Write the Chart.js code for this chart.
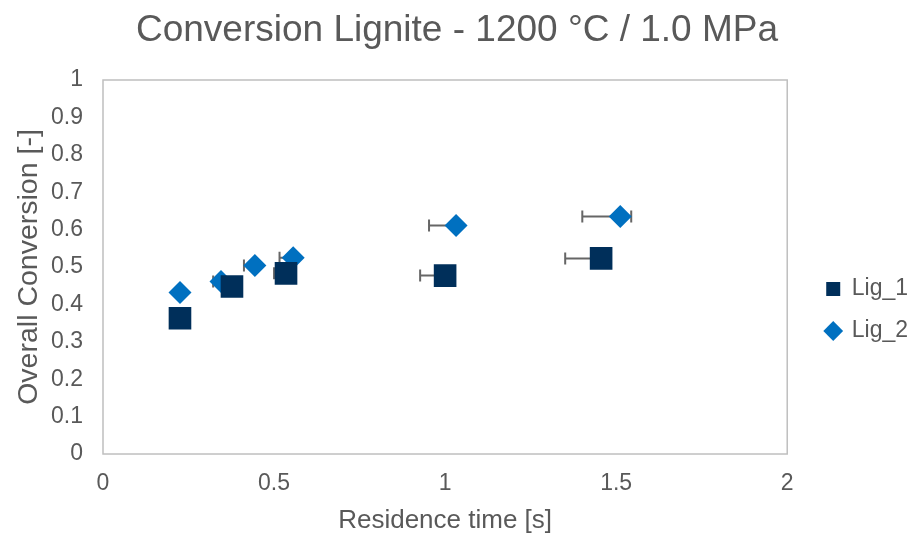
<!DOCTYPE html>
<html>
<head>
<meta charset="utf-8">
<script src="https://cdn.jsdelivr.net/npm/chart.js@4/dist/chart.umd.min.js"></script>
<style>
  html, body { margin: 0; padding: 0; background: #fff; }
  #wrap { width: 912px; height: 536px; }
</style>
</head>
<body>
<div id="wrap"><canvas id="chart"></canvas></div>
<script>
// ---------------- DATA ----------------
const lig1Time = [0.225, 0.377, 0.535, 1.0, 1.456];
const lig1Conv = [0.363, 0.448, 0.483, 0.477, 0.523];
const lig1ErrMinus = [0, 0, 0.035, 0.073, 0.105];
const lig1ErrPlus = [0, 0, 0, 0, 0];

const lig2Time = [0.225, 0.345, 0.444, 0.556, 1.032, 1.512];
const lig2Conv = [0.432, 0.461, 0.504, 0.525, 0.611, 0.635];
const lig2ErrMinus = [0, 0.023, 0.032, 0.04, 0.079, 0.111];
const lig2ErrPlus = [0, 0, 0, 0, 0, 0.032];

const xTicks = [0, 0.5, 1, 1.5, 2];
const yTicks = [0, 0.1, 0.2, 0.3, 0.4, 0.5, 0.6, 0.7, 0.8, 0.9, 1];

const textColor = "#595959";
const fontFamily = "'Liberation Sans', Arial, sans-serif";

function toPoints(xs, ys) {
    return xs.map((x, i) => ({ x: x, y: ys[i] }));
}

// horizontal error bars, plot frame, legend/title placement
const extras = {
    id: "extras",
    afterLayout(chart) {
        const lg = chart.legend;
        const dx = (chart.chartArea.right + 20) - lg.left;
        const dy = 42;
        lg.left += dx; lg.right += dx;
        lg.top += dy; lg.bottom += dy;
        // centre the title over the whole canvas
        chart.titleBlock.left = 0;
        chart.titleBlock.right = chart.width + 2;
    },
    beforeDatasetsDraw(chart) {
        const ctx = chart.ctx;
        const xs = chart.scales.x;
        const ys = chart.scales.y;
        const sets = [
            [lig1Time, lig1Conv, lig1ErrMinus, lig1ErrPlus],
            [lig2Time, lig2Conv, lig2ErrMinus, lig2ErrPlus]
        ];
        ctx.save();
        ctx.strokeStyle = "#666666";
        ctx.lineWidth = 2;
        sets.forEach(s => {
            s[0].forEach((x, i) => {
                const py = ys.getPixelForValue(s[1][i]);
                const px = xs.getPixelForValue(x);
                [-s[2][i], s[3][i]].forEach(e => {
                    if (!e) return;
                    const ex = xs.getPixelForValue(x + e);
                    ctx.beginPath();
                    ctx.moveTo(px, py);
                    ctx.lineTo(ex, py);
                    ctx.moveTo(ex, py - 6);
                    ctx.lineTo(ex, py + 6);
                    ctx.stroke();
                });
            });
        });
        ctx.restore();
    },
    beforeDraw(chart) {
        const a = chart.chartArea;
        const ctx = chart.ctx;
        ctx.save();
        ctx.strokeStyle = "#bfbfbf";
        ctx.lineWidth = 1.5;
        ctx.strokeRect(a.left, a.top, a.right - a.left, a.bottom - a.top);
        ctx.restore();
    }
};

new Chart(document.getElementById("chart"), {
    type: "scatter",
    data: {
        datasets: [{
            label: "Lig_1",
            data: toPoints(lig1Time, lig1Conv),
            pointStyle: "rect",
            pointRadius: 16,
            pointHoverRadius: 16,
            backgroundColor: "#002f5a",
            borderColor: "#002f5a",
            borderWidth: 0
        }, {
            label: "Lig_2",
            data: toPoints(lig2Time, lig2Conv),
            pointStyle: "rectRot",
            pointRadius: 11.5,
            pointHoverRadius: 11.5,
            backgroundColor: "#0070c0",
            borderColor: "#0070c0",
            borderWidth: 0
        }]
    },
    options: {
        responsive: true,
        maintainAspectRatio: false,
        animation: false,
        layout: { padding: { left: 0, right: 14, top: 0, bottom: 0 } },
        plugins: {
            title: {
                display: true,
                text: "Conversion Lignite - 1200 °C / 1.0 MPa",
                color: textColor,
                font: { family: fontFamily, size: 37, weight: "normal" },
                padding: { top: 9, bottom: 26.6 }
            },
            legend: {
                position: "right",
                labels: {
                    usePointStyle: true,
                    boxWidth: 14,
                    boxHeight: 14,
                    color: textColor,
                    padding: 19,
                    font: { family: fontFamily, size: 23 }
                }
            },
            tooltip: { enabled: false }
        },
        scales: {
            x: {
                type: "linear",
                min: 0,
                max: 2,
                afterBuildTicks: axis => { axis.ticks = xTicks.map(v => ({ value: v })); },
                afterFit: axis => { axis.height = 82; },
                grid: { display: false, drawTicks: false },
                border: { display: false },
                ticks: {
                    color: textColor,
                    padding: 16,
                    font: { family: fontFamily, size: 23 },
                    callback: v => String(v)
                },
                title: {
                    display: true,
                    text: "Residence time [s]",
                    color: textColor,
                    font: { family: fontFamily, size: 26 },
                    padding: { top: 0, bottom: 0 }
                }
            },
            y: {
                min: 0,
                max: 1,
                afterBuildTicks: axis => { axis.ticks = yTicks.map(v => ({ value: v })); },
                afterFit: axis => { axis.width = 103; },
                grid: { display: false, drawTicks: false },
                border: { display: false },
                ticks: {
                    color: textColor,
                    padding: 20,
                    font: { family: fontFamily, size: 23 },
                    callback: v => String(v)
                },
                title: {
                    display: true,
                    text: "Overall Conversion [-]",
                    color: textColor,
                    font: { family: fontFamily, size: 28.5 },
                    padding: { top: 12, bottom: 0 }
                }
            }
        }
    },
    plugins: [extras]
});
</script>
</body>
</html>
